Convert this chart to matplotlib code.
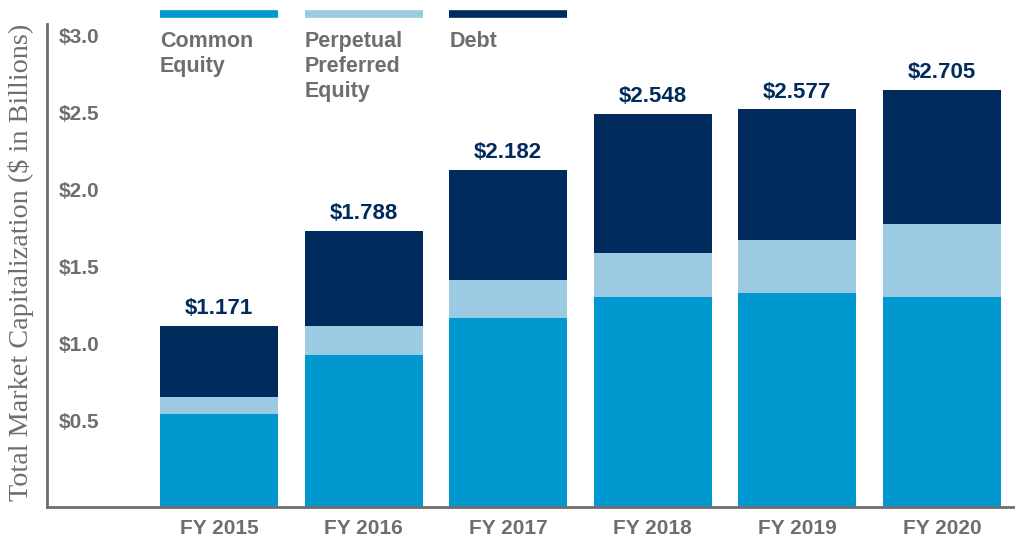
import matplotlib
matplotlib.use("Agg")
import matplotlib.pyplot as plt
import matplotlib.transforms as mtransforms
import numpy as np

GRAY = "#6D6E71"
NAVY = "#002B5C"
COLORS = ["#0098CE", "#9CCAE3", "#002B5C"]

years = ["FY 2015", "FY 2016", "FY 2017", "FY 2018", "FY 2019", "FY 2020"]
series_names = ["Common\nEquity", "Perpetual\nPreferred\nEquity", "Debt"]
common = [0.600, 0.982, 1.222, 1.364, 1.390, 1.358]
preferred = [0.110, 0.188, 0.246, 0.285, 0.343, 0.473]
debt = [0.461, 0.618, 0.714, 0.899, 0.844, 0.874]
totals = [1.171, 1.788, 2.182, 2.548, 2.577, 2.705]
yticks = [0.5, 1.0, 1.5, 2.0, 2.5, 3.0]
ytick_labels = ["$0.5", "$1.0", "$1.5", "$2.0", "$2.5", "$3.0"]

plt.rcParams['font.family'] = ['Liberation Sans', 'DejaVu Sans']

fig = plt.figure(figsize=(10.15, 5.42), dpi=100)
ax = fig.add_axes([47/1015, 35/542, 968/1015, 483/542])

x = np.arange(len(years))
w = 0.816
bottom = np.zeros(len(years))
for vals, col in zip([common, preferred, debt], COLORS):
    ax.bar(x, vals, w, bottom=bottom, color=col, zorder=1)
    bottom += np.array(vals)

# total labels above bars
for xi, top, t in zip(x, bottom, totals):
    ax.annotate("${:.3f}".format(t), (xi, top), xytext=(0, 8.5),
                textcoords="offset points", ha="center", va="baseline",
                fontsize=16, fontweight="bold", color=NAVY)

ax.set_xlim(-1.19, 5.505)
ax.set_ylim(0, 3.13)

for s in ["top", "right"]:
    ax.spines[s].set_visible(False)
for s in ["left", "bottom"]:
    ax.spines[s].set_color(GRAY)
    ax.spines[s].set_linewidth(2)
    ax.spines[s].set_zorder(3)

ax.set_xticks(x)
ax.set_xticklabels(years, fontsize=15, fontweight="bold", color=GRAY)
ax.tick_params(axis="x", length=0, pad=9)

ax.set_yticks(yticks)
ax.set_yticklabels(ytick_labels, fontsize=15, fontweight="bold", color=GRAY)
ax.tick_params(axis="y", length=0, pad=-8.6)
shift = mtransforms.ScaledTranslation(0, 9/100, fig.dpi_scale_trans)
for lbl in ax.get_yticklabels():
    lbl.set_horizontalalignment("left")
    lbl.set_transform(lbl.get_transform() + shift)

fig.text(21/1015, (542-262)/542, "Total Market Capitalization ($ in Billions)",
         rotation=90, ha="center", va="center", fontsize=20.3,
         family="Liberation Serif", color=GRAY)

# legend across the top, lined up with the first three bars
trans = mtransforms.blended_transform_factory(ax.transData, fig.transFigure)
for i, (name, col) in enumerate(zip(series_names, COLORS)):
    ax.plot([x[i] - w/2, x[i] + w/2], [1 - 14/542, 1 - 14/542], color=col,
            lw=5.5, solid_capstyle="butt", transform=trans, clip_on=False)
    ax.text(x[i] - w/2, 1 - 31/542, name, transform=trans, ha="left", va="top",
            fontsize=15.5, fontweight="bold", color=GRAY, linespacing=1.25)

fig.savefig("out.png", dpi=100)
